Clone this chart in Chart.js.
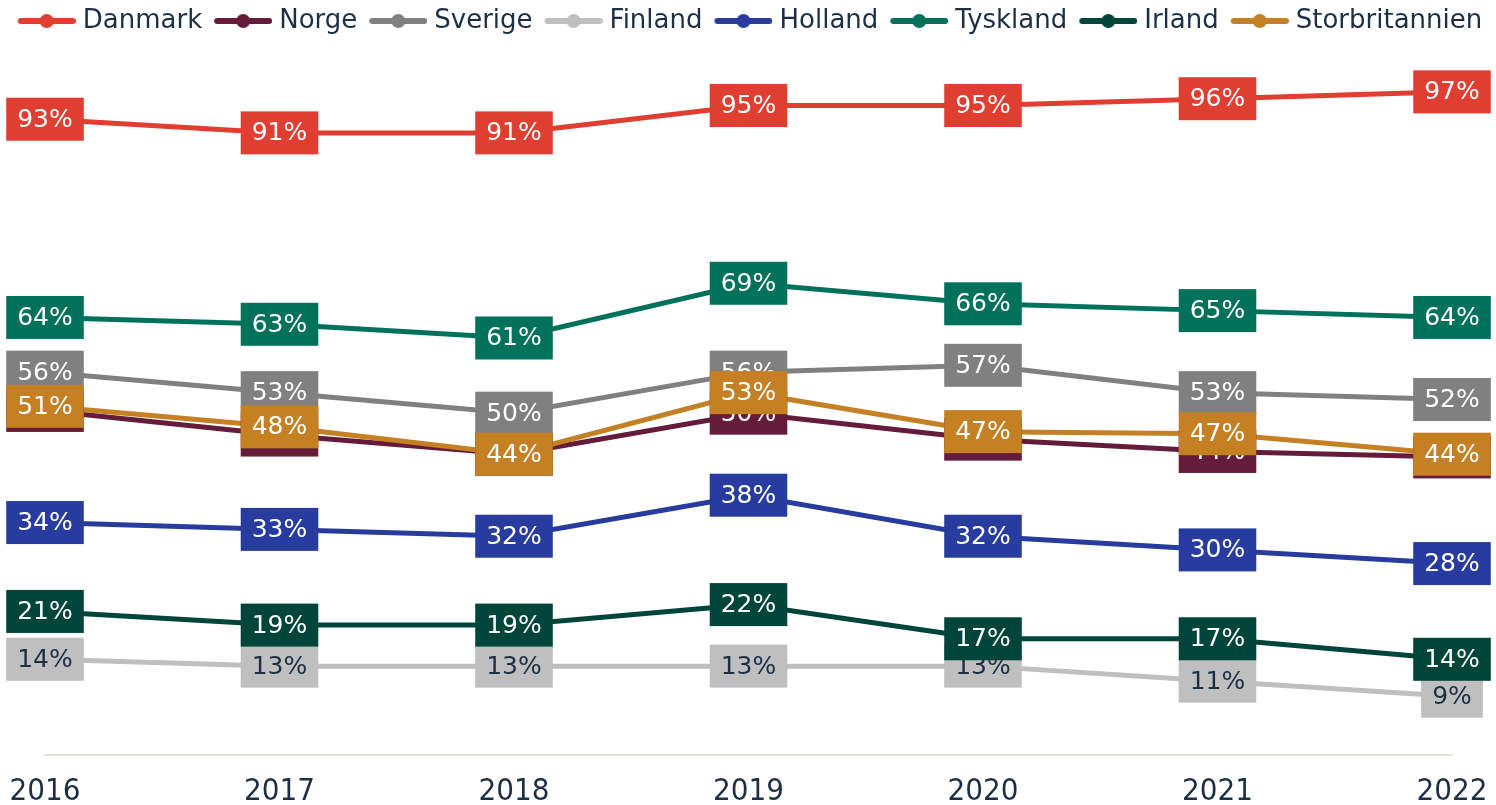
<!DOCTYPE html>
<html>
<head>
<meta charset="utf-8">
<script src="https://cdn.jsdelivr.net/npm/chart.js@4.4.0/dist/chart.umd.min.js"></script>
<style>
  body { margin: 0; background: #ffffff; }
  #wrap { width: 1496px; height: 805px; }
</style>
</head>
<body>
<div id="wrap"><canvas id="myChart"></canvas></div>
<script>
'use strict'

const years = ['2016', '2017', '2018', '2019', '2020', '2021', '2022'];
const countries = ['Danmark', 'Norge', 'Sverige', 'Finland', 'Holland', 'Tyskland', 'Irland', 'Storbritannien'];
const danmark = [93, 91, 91, 95, 95, 96, 97];
const norge = [50.4, 46.8, 44, 50, 46.2, 44.4, 43.6];
const sverige = [56, 53, 50, 56, 57, 53, 52];
const finland = [14, 13, 13, 13, 13, 10.8, 8.6];
const holland = [34, 33, 32, 38, 32, 30, 28];
const tyskland = [64, 63, 61, 69, 66, 65, 64];
const irland = [21, 19, 19, 22, 17, 17, 14];
const storbritannien = [51, 48, 44, 53, 47.3, 47, 44];
const colors = ['#e03e31', '#651c3a', '#808080', '#bfbfbf', '#283c9f', '#00725b', '#00453a', '#c48022'];
const labelTextColors = ['#fff', '#fff', '#fff', '#1d2f45', '#fff', '#fff', '#fff', '#fff'];

const allValues = [danmark, norge, sverige, finland, holland, tyskland, irland, storbritannien];
const textColor = '#1d2f45';
const fontName = 'DejaVu Sans';

// line-with-dot symbol for the legend, left part kept empty to space the items
function legendSymbol(color) {
    let c = document.createElement('canvas');
    c.width = 68;
    c.height = 16;
    let g = c.getContext('2d');
    g.strokeStyle = color;
    g.lineWidth = 6;
    g.lineCap = 'round';
    g.beginPath();
    g.moveTo(13, 8);
    g.lineTo(65, 8);
    g.stroke();
    g.fillStyle = color;
    g.beginPath();
    g.arc(39, 8, 7, 0, Math.PI * 2);
    g.fill();
    return c;
}

// boxed value labels, drawn in dataset order so later series sit on top
const boxLabels = {
    id: 'boxLabels',
    afterDatasetsDraw(chart) {
        let ctx = chart.ctx;
        ctx.save();
        ctx.font = '25px "' + fontName + '"';
        ctx.textAlign = 'center';
        ctx.textBaseline = 'middle';
        chart.data.datasets.forEach((ds, i) => {
            let meta = chart.getDatasetMeta(i);
            meta.data.forEach((pt, j) => {
                let txt = Math.round(ds.data[j]) + '%';
                let w = ctx.measureText(txt).width + 22;
                let h = 43;
                ctx.fillStyle = colors[i];
                ctx.fillRect(pt.x - w / 2, pt.y - h / 2, w, h);
                ctx.fillStyle = labelTextColors[i];
                ctx.fillText(txt, pt.x, pt.y + 1);
            });
        });
        ctx.restore();
    }
};

let datasets = countries.map((name, i) => ({
    label: name,
    data: allValues[i],
    borderColor: colors[i],
    backgroundColor: colors[i],
    borderWidth: 5,
    pointRadius: 0,
    pointHoverRadius: 0,
    tension: 0,
    order: countries.length - i
}));

let ctx = document.getElementById('myChart');
const myChart = new Chart(ctx, {
    type: 'line',
    data: {
        labels: years,
        datasets: datasets
    },
    options: {
        responsive: true,
        maintainAspectRatio: false,
        animation: false,
        layout: {
            padding: 0
        },
        plugins: {
            tooltip: { enabled: false },
            legend: {
                position: 'top',
                labels: {
                    usePointStyle: true,
                    pointStyleWidth: 56,
                    padding: 8,
                    color: textColor,
                    font: { family: fontName, size: 26 },
                    generateLabels(chart) {
                        return chart.data.datasets.map((ds, i) => ({
                            text: ds.label,
                            fillStyle: colors[i],
                            strokeStyle: colors[i],
                            lineWidth: 0,
                            pointStyle: legendSymbol(colors[i]),
                            fontColor: textColor,
                            hidden: false,
                            datasetIndex: i
                        }));
                    }
                }
            }
        },
        scales: {
            x: {
                offset: false,
                grid: { display: false },
                border: { display: true, color: '#e8e4da', width: 2 },
                ticks: {
                    color: textColor,
                    padding: 10,
                    font: { family: 'DejaVu Sans Condensed', size: 31 }
                },
                afterFit(scale) {
                    scale.height = 50;
                    scale.paddingLeft = 45;
                    scale.paddingRight = 44;
                }
            },
            y: {
                display: false,
                min: 0,
                max: 104
            }
        }
    },
    plugins: [boxLabels]
});
</script>
</body>
</html>
